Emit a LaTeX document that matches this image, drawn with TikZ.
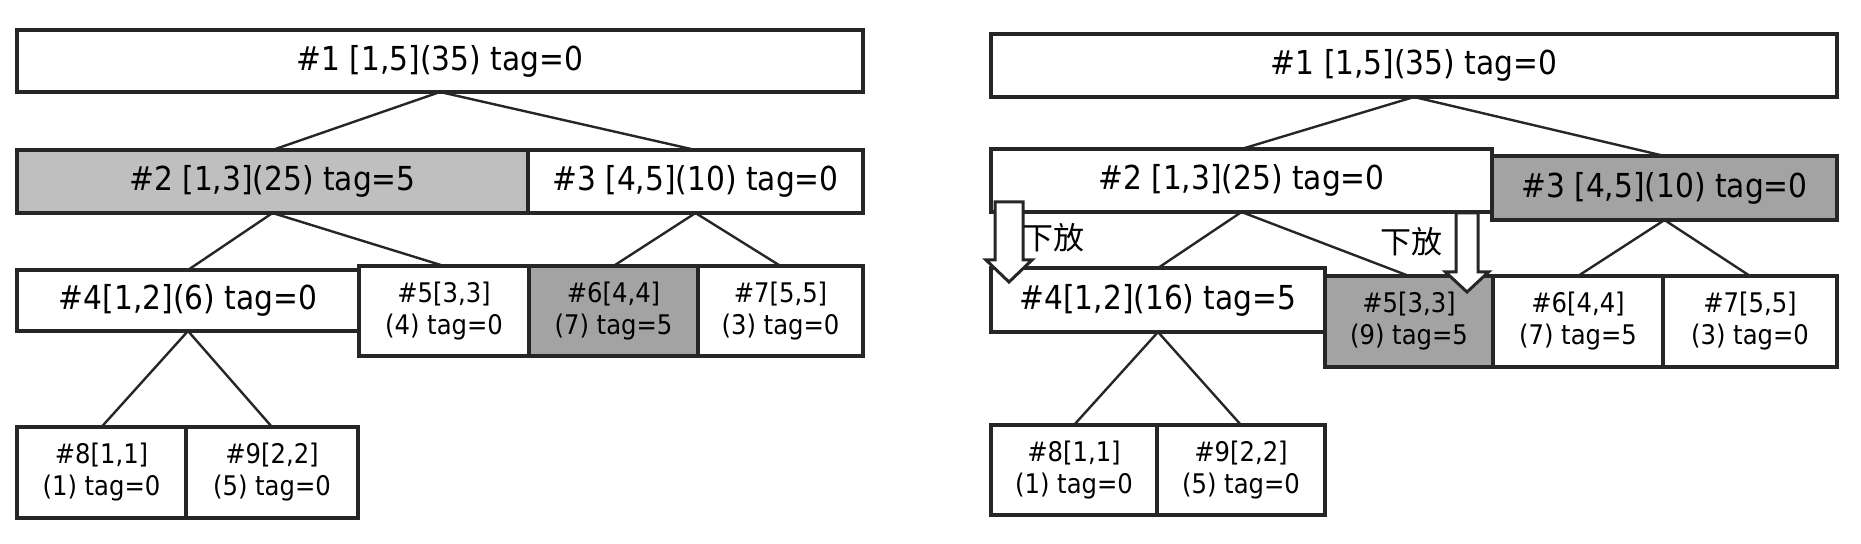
\documentclass[tikz,border=0pt]{standalone}
\usepackage{fontspec}
\setmainfont{DejaVu Sans Condensed}
\newfontfamily\cjk{Noto Sans CJK SC}

\begin{document}
\begin{tikzpicture}[x=0.5pt,y=-0.5pt,
  cell/.style={draw=black!85, line width=1.7pt, inner sep=0pt, outer sep=0pt, align=center},
  boxdim/.style 2 args={minimum width=#1*0.5pt, minimum height=#2*0.5pt},
  big/.style={font=\fontsize{16.5}{20}\selectfont},
  small/.style={font=\fontsize{13.5}{16}\selectfont},
  light/.style={fill=black!25},
  dark/.style={fill=black!36},
  edge/.style={line width=1.2pt, draw=black!85},
  fatarrow/.style={draw=black!85, line width=1.5pt, fill=white, line join=miter},
  note/.style={font=\cjk\fontsize{15.5}{18}\selectfont, inner sep=0pt}]
  \useasboundingbox (0,0) rectangle (1861,544);

  % Left tree: boxes
  \node[cell,big,boxdim={846}{62}] (l1) at (440,61) {\#1 [1,5](35) tag=0};
  \node[cell,big,light,boxdim={511}{63}] (l2) at (272.5,181.5) {\#2 [1,3](25) tag=5};
  \node[cell,big,boxdim={335}{63}] (l3) at (695.5,181.5) {\#3 [4,5](10) tag=0};
  \node[cell,big,boxdim={342}{61}] (l4) at (188,300.5) {\#4[1,2](6) tag=0};
  \node[cell,small,boxdim={170}{90}] (l5) at (444,311) {\#5[3,3]\\(4) tag=0};
  \node[cell,small,dark,boxdim={169}{90}] (l6) at (613.5,311) {\#6[4,4]\\(7) tag=5};
  \node[cell,small,boxdim={165}{90}] (l7) at (780.5,311) {\#7[5,5]\\(3) tag=0};
  \node[cell,small,boxdim={169}{91}] (l8) at (101.5,472.5) {\#8[1,1]\\(1) tag=0};
  \node[cell,small,boxdim={172}{91}] (l9) at (272,472.5) {\#9[2,2]\\(5) tag=0};

  % Left tree: edges
  \draw[edge] (l1.south) -- (l2.north);
  \draw[edge] (l1.south) -- (l3.north);
  \draw[edge] (l2.south) -- (l4.north);
  \draw[edge] (l2.south) -- (l5.north);
  \draw[edge] (l3.south) -- (l6.north);
  \draw[edge] (l3.south) -- (l7.north);
  \draw[edge] (l4.south) -- (l8.north);
  \draw[edge] (l4.south) -- (l9.north);

  % Right tree: boxes
  \node[cell,big,boxdim={846}{63}] (r1) at (1414,65.5) {\#1 [1,5](35) tag=0};
  \node[cell,big,boxdim={501}{63}] (r2) at (1241.5,180.5) {\#2 [1,3](25) tag=0};
  \node[cell,big,dark,boxdim={345}{64}] (r3) at (1664.5,188) {\#3 [4,5](10) tag=0};
  \node[cell,big,boxdim={334}{64}] (r4) at (1158,300) {\#4[1,2](16) tag=5};
  \node[cell,small,dark,boxdim={168}{91}] (r5) at (1409,321.5) {\#5[3,3]\\(9) tag=5};
  \node[cell,small,boxdim={170}{91}] (r6) at (1578,321.5) {\#6[4,4]\\(7) tag=5};
  \node[cell,small,boxdim={174}{91}] (r7) at (1750,321.5) {\#7[5,5]\\(3) tag=0};
  \node[cell,small,boxdim={166}{90}] (r8) at (1074,470) {\#8[1,1]\\(1) tag=0};
  \node[cell,small,boxdim={168}{90}] (r9) at (1241,470) {\#9[2,2]\\(5) tag=0};

  % Right tree: edges
  \draw[edge] (r1.south) -- (r2.north);
  \draw[edge] (r1.south) -- (r3.north);
  \draw[edge] (r2.south) -- (r4.north);
  \draw[edge] (r2.south) -- (r5.north);
  \draw[edge] (r3.south) -- (r6.north);
  \draw[edge] (r3.south) -- (r7.north);
  \draw[edge] (r4.south) -- (r8.north);
  \draw[edge] (r4.south) -- (r9.north);

  % Push-down arrows
  \coordinate (a1) at (1009,202);
  \coordinate (a2) at (1467,213);
  \draw[fatarrow] (a1) ++(-14,0) -- ++(28,0) -- ++(0,58) -- ++(9,0) -- ++(-23,22)
    -- ++(-23,-22) -- ++(9,0) -- cycle;
  \draw[fatarrow] (a2) ++(-11,0) -- ++(22,0) -- ++(0,59) -- ++(10.5,0) -- ++(-21.5,20)
    -- ++(-21.5,-20) -- ++(10.5,0) -- cycle;

  % Labels
  \node[note] (n1) at (1053,238) {下放};
  \node[note] (n2) at (1411,242) {下放};
\end{tikzpicture}
\end{document}
